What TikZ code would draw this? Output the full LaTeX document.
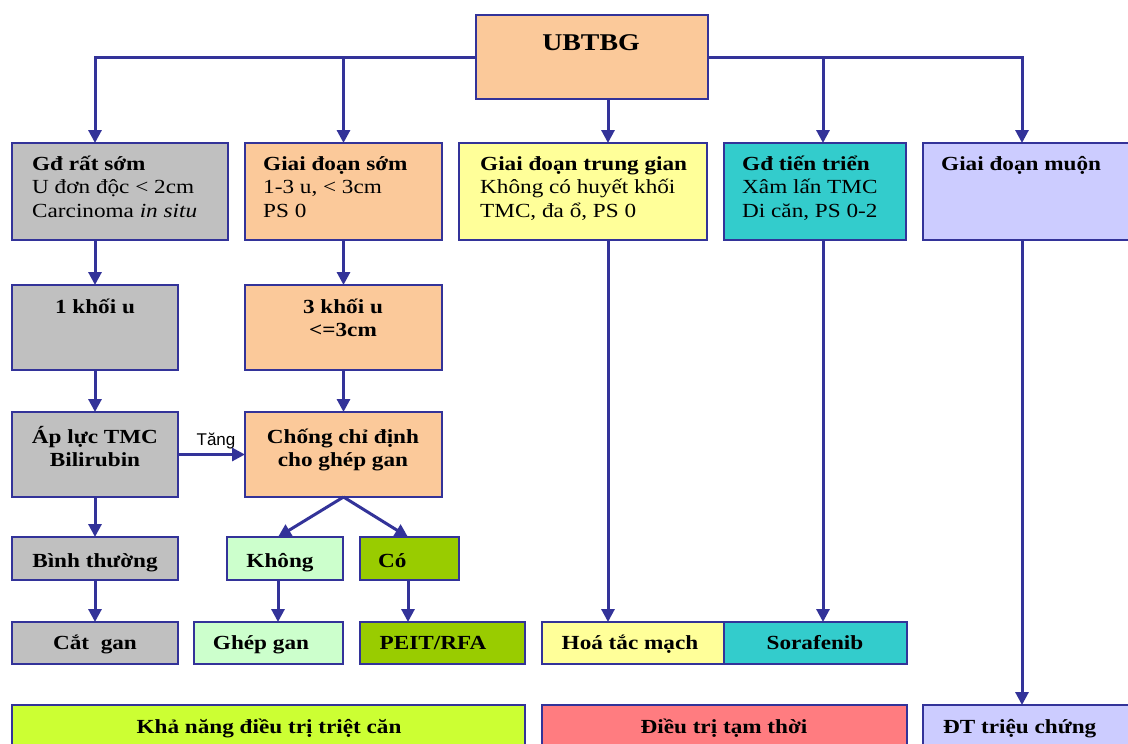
\documentclass[tikz,border=0pt]{standalone}
\usepackage{fontspec}
\setmainfont[FakeStretch=1.16]{Liberation Serif}
\newfontfamily\labelsans{Liberation Sans}
\usetikzlibrary{arrows.meta}
\definecolor{bord}{HTML}{333399}
\definecolor{cgray}{HTML}{C0C0C0}
\definecolor{cpeach}{HTML}{FBC99A}
\definecolor{cyel}{HTML}{FFFF99}
\definecolor{cteal}{HTML}{33CCCC}
\definecolor{clav}{HTML}{CCCCFF}
\definecolor{clgreen}{HTML}{CCFFCC}
\definecolor{cdgreen}{HTML}{99CC00}
\definecolor{clime}{HTML}{CCFF33}
\definecolor{csalmon}{HTML}{FF7C80}
\newcommand\mkbox[6]{%
  \pgfmathsetmacro\bxw{#4-#2}\pgfmathsetmacro\bxh{#5-#3}%
  \pgfmathsetmacro\bxx{(#2+#4)/2}\pgfmathsetmacro\bxy{(#3+#5)/2}%
  \node[box,fill=#6,minimum width=\bxw pt,minimum height=\bxh pt] (#1) at (\bxx,\bxy) {};}
\newcommand\mlines[1]{\begin{tabular}[t]{@{}l@{}}#1\end{tabular}}
\newcommand\clines[1]{\begin{tabular}[t]{@{}c@{}}#1\end{tabular}}
\begin{document}
\begin{tikzpicture}[x=1pt,y=-1pt,
  box/.style={draw=bord,line width=1.8pt,inner sep=0pt,outer sep=0pt},
  arr/.style={draw=bord,line width=3pt,-{Triangle[width=13pt,length=13pt]}},
  tl/.style={anchor=base west,inner sep=0pt,font=\fontsize{20}{23.8}\selectfont},
  ct/.style={anchor=base,inner sep=0pt,font=\fontsize{20}{23.8}\selectfont\bfseries},
]
\useasboundingbox (0,0) rectangle (1128,744);
\clip (0,0) rectangle (1128,744);
\fill[white] (0,0) rectangle (1128,744);
% boxes
\mkbox{ub}{476}{15}{708}{99}{cpeach}
\mkbox{g1}{12}{143}{228}{240}{cgray}
\mkbox{g2}{245}{143}{442}{240}{cpeach}
\mkbox{g3}{459}{143}{707}{240}{cyel}
\mkbox{g4}{724}{143}{906}{240}{cteal}
\mkbox{g5}{923}{143}{1140}{240}{clav}
\mkbox{k1}{12}{285}{178}{370}{cgray}
\mkbox{k3}{245}{285}{442}{370}{cpeach}
\mkbox{ap}{12}{412}{178}{497}{cgray}
\mkbox{cc}{245}{412}{442}{497}{cpeach}
\mkbox{bt}{12}{537}{178}{580}{cgray}
\mkbox{kh}{227}{537}{343}{580}{clgreen}
\mkbox{co}{360}{537}{459}{580}{cdgreen}
\mkbox{cg}{12}{622}{178}{664}{cgray}
\mkbox{gg}{194}{622}{343}{664}{clgreen}
\mkbox{pe}{360}{622}{525}{664}{cdgreen}
\mkbox{ht}{542}{622}{724}{664}{cyel}
\mkbox{so}{724}{622}{907}{664}{cteal}
\mkbox{kn}{12}{705}{525}{770}{clime}
\mkbox{dt}{542}{705}{907}{770}{csalmon}
\mkbox{tc}{923}{705}{1140}{770}{clav}
% texts
\node[ct,font=\fontsize{24}{28}\selectfont\bfseries] (tub) at (591,50) {UBTBG};
\node[tl] (tg1) at (32,170) {\mlines{\textbf{Gđ rất sớm}\\U đơn độc < 2cm\\Carcinoma \textit{in situ}}};
\node[tl] (tg2) at (263,170) {\mlines{\textbf{Giai đoạn sớm}\\1-3 u, < 3cm\\PS 0}};
\node[tl] (tg3) at (480,170) {\mlines{\textbf{Giai đoạn trung gian}\\Không có huyết khối\\TMC, đa ổ, PS 0}};
\node[tl] (tg4) at (742,170) {\mlines{\textbf{Gđ tiến triển}\\Xâm lấn TMC\\Di căn, PS 0-2}};
\node[tl] (tg5) at (941,170) {\textbf{Giai đoạn muộn}};
\node[ct] (tk1) at (95,313) {1 khối u};
\node[ct] (tk3) at (343,313) {\clines{3 khối u\\<=3cm}};
\node[ct] (tap) at (95,443) {\clines{Áp lực TMC\\Bilirubin}};
\node[ct] (tcc) at (343,443) {\clines{Chống chỉ định\\cho ghép gan}};
\node[ct] (tbt) at (95,567) {Bình thường};
\node[ct] (tkh) at (280,567) {Không};
\node[ct,anchor=base west] (tco) at (378,567) {Có};
\node[ct] (tcg) at (95,649) {Cắt~~gan};
\node[ct] (tgg) at (261,649) {Ghép gan};
\node[ct] (tpe) at (433,649) {PEIT/RFA};
\node[ct] (tht) at (630,649) {Hoá tắc mạch};
\node[ct] (tso) at (815,649) {Sorafenib};
\node[ct] (tkn) at (269,733) {Khả năng điều trị triệt căn};
\node[ct] (tdt) at (724,733) {Điều trị tạm thời};
\node[ct,anchor=base west] (ttc) at (943,733) {ĐT triệu chứng};
\node[anchor=base,inner sep=0pt,font=\labelsans\fontsize{17}{20}\selectfont] (tang) at (216,445) {Tăng};
% coordinates for arrow columns
\coordinate (c1) at (95,0);
\coordinate (c3) at (608,0);
\coordinate (c4) at (823,0);
\coordinate (c5) at (1022,0);
\coordinate (ck) at (278,0);
\coordinate (cc2) at (408,0);
% connectors
\draw[arr] (ub.west) -| (g1.north -| c1);
\draw[arr] (ub.west -| g2.north) -- (g2.north);
\draw[arr] (ub.south -| c3) -- (g3.north -| c3);
\draw[arr] (ub.east) -| (g5.north -| c5);
\draw[arr] (ub.east -| c4) -- (g4.north -| c4);
\draw[arr] (g1.south -| c1) -- (k1.north);
\draw[arr] (k1.south) -- (ap.north);
\draw[arr] (ap.south) -- (bt.north);
\draw[arr] (bt.south) -- (cg.north);
\draw[arr] (g2.south) -- (k3.north);
\draw[arr] (k3.south) -- (cc.north);
\draw[arr] (ap.east) -- (cc.west);
\draw[arr] (cc.south) -- (kh.north -| ck);
\draw[arr] (cc.south) -- (co.north -| cc2);
\draw[arr] (kh.south -| ck) -- (gg.north -| ck);
\draw[arr] (co.south -| cc2) -- (pe.north -| cc2);
\draw[arr] (g3.south -| c3) -- (ht.north -| c3);
\draw[arr] (g4.south -| c4) -- (so.north -| c4);
\draw[arr] (g5.south -| c5) -- (tc.north -| c5);
\end{tikzpicture}
\end{document}
